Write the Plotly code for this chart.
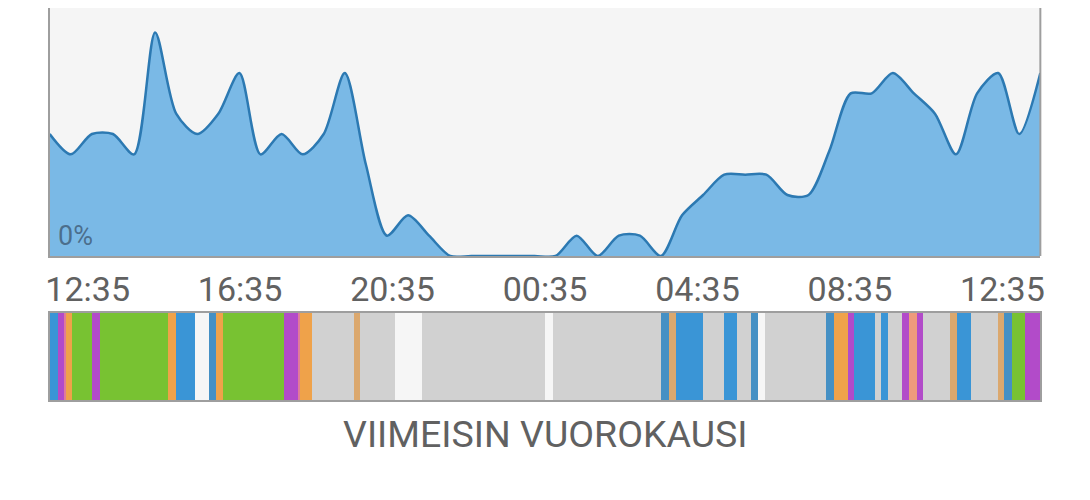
import numpy as np
import plotly.graph_objects as go

# Activity level, one sample every 30 min (hours since start)
sample_hours = [i * 0.5 for i in range(48)]
activity = [6, 5, 6, 6, 5, 11, 7, 6, 7, 9,
            5, 6, 5, 6, 9, 4.5, 1, 2, 1, 0,
            0, 0, 0, 0, 0, 1, 0, 1, 1, 0,
            2, 3, 4, 4, 4, 3, 3, 5.2, 8, 8,
            9, 8, 7, 5, 8, 9, 6, 9]

tick_labels = ["12:35", "16:35", "20:35", "00:35", "04:35", "08:35", "12:35"]

# State strip: segment start hours + state, last segment ends at strip_end
strip_end = 23.5
seg_start = [0.00, 0.19, 0.35, 0.39, 0.53, 1.00, 1.18, 2.80, 2.98, 3.43,
             3.78, 3.93, 4.10, 5.55, 5.89, 5.94, 6.22, 7.20, 7.35, 8.18,
             8.82, 11.75, 11.93, 14.50, 14.68, 14.85, 15.49, 16.00, 16.30, 16.62,
             16.80, 16.97, 18.42, 18.60, 18.92, 19.07, 19.56, 19.72, 19.89, 20.20,
             20.38, 20.56, 20.70, 21.36, 21.52, 21.84, 22.50, 22.64, 22.82, 23.13]
seg_state = ["blue", "purple", "pink", "orange", "green", "purple", "green", "orange", "blue", "white",
             "steel", "orange", "green", "purple", "pink", "orange", "gray", "tan", "gray", "white",
             "gray", "white", "gray", "steel", "tan", "blue", "gray", "blue", "gray", "steel",
             "white", "gray", "steel", "orange", "purple", "blue", "gray", "blue", "gray", "purple",
             "salmon", "purple", "gray", "tan", "blue", "gray", "tan", "steel", "green", "purple"]

state_colors = {
    "green": "#78c232", "blue": "#3a95d6", "steel": "#4590c4", "purple": "#b24bc9",
    "orange": "#efa24a", "tan": "#dba86e", "pink": "#e07a9a", "salmon": "#ee9a7c",
    "gray": "#d1d1d1", "white": "#f6f6f6",
}

seg_end = seg_start[1:] + [strip_end]
seg_mid = [(a + b) / 2 for a, b in zip(seg_start, seg_end)]
seg_width = [b - a for a, b in zip(seg_start, seg_end)]

border = "#9e9e9e"
text_grey = "#616161"

fig = go.Figure()

fig.add_trace(go.Scatter(
    x=sample_hours, y=activity, mode="lines", fill="tozeroy",
    fillcolor="#7ab9e6", line=dict(color="#2c79b2", width=2.5, shape="spline", smoothing=0.8),
    hoverinfo="skip", xaxis="x", yaxis="y"))

fig.add_trace(go.Bar(
    x=seg_mid, y=[1] * len(seg_mid), width=seg_width,
    marker=dict(color=[state_colors[s] for s in seg_state], line_width=0),
    hoverinfo="skip", xaxis="x2", yaxis="y2"))

# page body has an 8px margin, so the figure is a bit smaller than the window
W, H = 1082, 492
x_dom = [38 / W, 1036 / W]
tick_pos = np.linspace(0.9, 22.6, len(tick_labels))

fig.update_layout(
    width=W, height=H,
    margin=dict(l=0, r=0, t=0, b=0),
    paper_bgcolor="white", plot_bgcolor="#f5f5f5",
    showlegend=False, bargap=0,
    font=dict(family="Roboto", color=text_grey),
    xaxis=dict(domain=x_dom, range=[0, strip_end], showgrid=False, zeroline=False,
               showline=True, linecolor=border, linewidth=2,
               tickvals=tick_pos, ticktext=tick_labels, tickfont=dict(size=34, color=text_grey),
               ticks="outside", ticklen=2, tickcolor="rgba(0,0,0,0)"),
    yaxis=dict(domain=[(H - 248) / H, 1], range=[0, 12.2], showgrid=False, zeroline=False,
               showticklabels=False, showline=True, linecolor=border, linewidth=2),
    xaxis2=dict(domain=x_dom, range=[0, strip_end], showgrid=False, zeroline=False,
                showticklabels=False, showline=True, mirror=True, linecolor=border, linewidth=2,
                anchor="y2"),
    yaxis2=dict(domain=[(H - 392) / H, (H - 305) / H], range=[0, 1], showgrid=False, zeroline=False,
                showticklabels=False, showline=True, mirror=True, linecolor=border, linewidth=2,
                anchor="x2"),
)

# right edge of the chart frame (top is cut off in the original)
fig.add_shape(type="line", xref="x domain", yref="y domain", x0=1, x1=1, y0=0, y1=1,
              line=dict(color=border, width=2))

fig.add_annotation(text="0%", xref="x domain", yref="y", x=0, y=0, xanchor="left", yanchor="bottom",
                   xshift=6, yshift=2, showarrow=False,
                   font=dict(size=27, color="rgba(60,85,110,0.75)"))

fig.add_annotation(text="VIIMEISIN VUOROKAUSI", xref="x domain", yref="paper", x=0.5, y=(H - 426) / H,
                   xanchor="center", yanchor="middle", showarrow=False,
                   font=dict(size=37.5, color=text_grey))

fig.write_html("out.html")
